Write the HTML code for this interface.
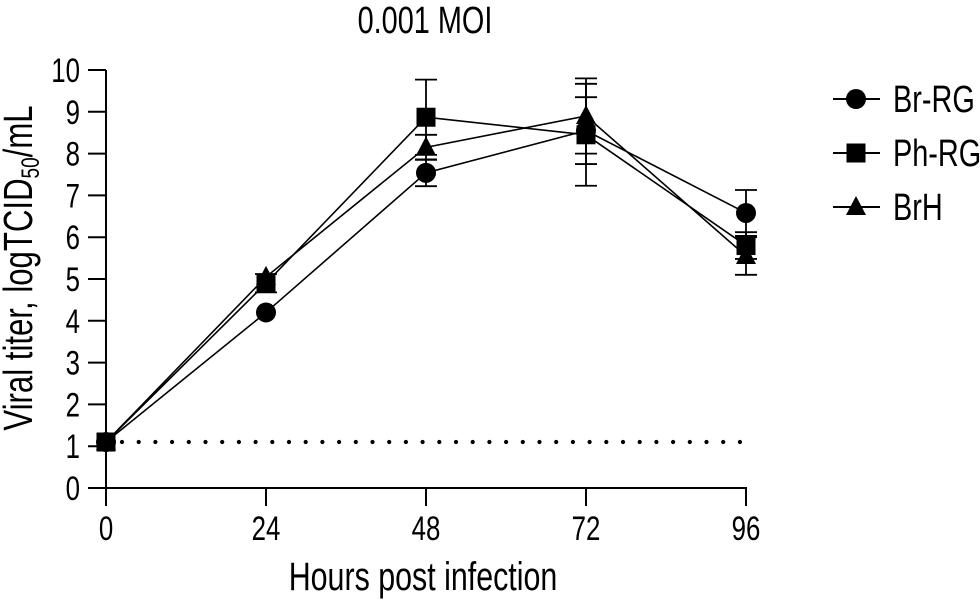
<!DOCTYPE html>
<html><head><meta charset="utf-8"><style>
html,body{margin:0;padding:0;background:#fff;}
svg{display:block;font-family:"Liberation Sans",sans-serif;}
</style></head><body>
<svg id="chart" width="980" height="601" viewBox="0 0 980 601" xmlns="http://www.w3.org/2000/svg">
<g id="axes"></g><g id="series"></g><g id="legend"></g>
</svg>
<script>
const hours = [0, 24, 48, 72, 96];
const yTicks = [0,1,2,3,4,5,6,7,8,9,10];
const seriesNames = ["Br-RG", "Ph-RG", "BrH"];
const brRG = [1.1, 4.2, 7.54, 8.55, 6.58];
const brRGErr = [0, 0, 0.32, 0.8, 0.55];
const phRG = [1.1, 4.9, 8.87, 8.45, 5.8];
const phRGErr = [0, 0.22, 0.9, 1.22, 0.32];
const brH = [1.1, 5.05, 8.15, 8.9, 5.55];
const brHErr = [0, 0, 0.3, 0.9, 0.45];
const detectionLimit = 1.1;

const NS = "http://www.w3.org/2000/svg";
const X0 = 106, X1 = 746, Y0 = 488, Y1 = 70;
const xs = h => X0 + (h - 0) / 96 * (X1 - X0);
const ys = v => Y0 - v / 10 * (Y0 - Y1);
function mk(tag, attrs, parent){ const e = document.createElementNS(NS, tag); for (const k in attrs) e.setAttribute(k, attrs[k]); parent.appendChild(e); return e; }
function txt(x, y, s, size, anchor, parent, name, rot){
  const g = mk("g", {transform: `translate(${x},${y})` + (rot ? ` rotate(${rot})` : "") + " scale(0.76,1)"}, parent);
  const t = mk("text", {x:0, y:0, "font-size":size, "text-anchor":anchor, fill:"#000"}, g);
  t.textContent = s;
  
  
  return t;
}
const axes = document.getElementById("axes");
const series = document.getElementById("series");
const legend = document.getElementById("legend");

let l = mk("line", {x1:X0, y1:Y1, x2:X0, y2:506, stroke:"#000", "stroke-width":2}, axes);


l = mk("line", {x1:88, y1:Y0, x2:X1+1, y2:Y0, stroke:"#000", "stroke-width":2}, axes);


yTicks.forEach(v => {
  const t = mk("line", {x1:88, y1:ys(v), x2:X0, y2:ys(v), stroke:"#000", "stroke-width":2}, axes);
  
  
  txt(80, ys(v) + 12, String(v), 34, "end", axes, "y-tick-label");
});
hours.forEach(h => {
  const t = mk("line", {x1:xs(h), y1:Y0, x2:xs(h), y2:506, stroke:"#000", "stroke-width":2}, axes);
  
  
  txt(xs(h), 540, String(h), 34, "middle", axes, "x-tick-label");
});
txt(425, 33, "0.001 MOI", 38, "middle", axes, "chart-title");
txt(423, 590, "Hours post infection", 40, "middle", axes, "x-axis-title");
{
  const g = mk("g", {transform:"translate(32,268) rotate(-90) scale(0.76,1)"}, axes);
  const t = mk("text", {x:0, y:0, "font-size":41, "text-anchor":"middle", fill:"#000"}, g);
  
  
  t.appendChild(document.createTextNode("Viral titer, logTCID"));
  const s = mk("tspan", {"font-size":25, dy:7}, t); s.textContent = "50";
  const s2 = mk("tspan", {dy:-7}, t); s2.textContent = "/mL";
}
for (let x = 122; x <= 742; x += 16.7) {
  const d = mk("circle", {cx:x, cy:ys(detectionLimit), r:2.1, fill:"#000"}, axes);
  
  
}

function marker(kind, cx, cy, parent){
  let m;
  if (kind === 0) m = mk("circle", {cx, cy, r:10, fill:"#000"}, parent);
  else if (kind === 1) m = mk("rect", {x:cx-9.5, y:cy-9.5, width:19, height:19, fill:"#000"}, parent);
  else m = mk("polygon", {points:`${cx},${cy-11} ${cx+10},${cy+8} ${cx-10},${cy+8}`, fill:"#000"}, parent);
  return m;
}
const allVals = [brRG, phRG, brH];
const allErr = [brRGErr, phRGErr, brHErr];
allVals.forEach((vals, si) => {
  const g = mk("g", {}, series);
  
  
  const p = mk("polyline", {points: vals.map((v,i)=>xs(hours[i])+","+ys(v)).join(" "), fill:"none", stroke:"#000", "stroke-width":1.6}, g);
  
  
  vals.forEach((v, i) => {
    const e = allErr[si][i];
    if (e > 0) {
      const x = xs(hours[i]);
      const eb = mk("path", {d:`M${x},${ys(v+e)}V${ys(v-e)}M${x-11},${ys(v+e)}H${x+11}M${x-11},${ys(v-e)}H${x+11}`, stroke:"#000", "stroke-width":1.8, fill:"none"}, g);
      
      
    }
    const m = marker(si, xs(hours[i]), ys(v), g);
    
    
  });
});
seriesNames.forEach((n, i) => {
  const y = 99 + i * 54;
  const g = mk("g", {}, legend);
  
  
  mk("line", {x1:833, y1:y, x2:880, y2:y, stroke:"#000", "stroke-width":2}, g);
  marker(i, 856, y, g);
  txt(893, y + 13, n, 38, "start", g, "legend-label");
});
</script>
</body></html>
